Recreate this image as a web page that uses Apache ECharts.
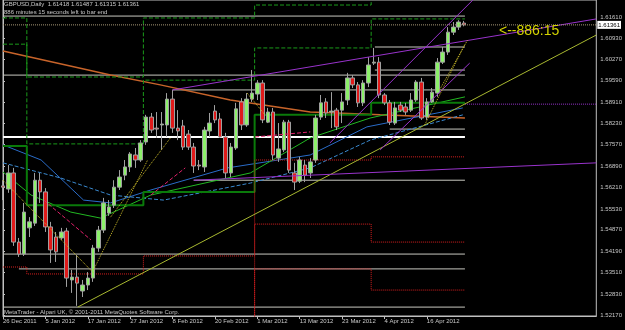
<!DOCTYPE html>
<html>
<head>
<meta charset="utf-8">
<script src="https://cdn.jsdelivr.net/npm/echarts@6/dist/echarts.min.js"></script>
<style>
  html, body { margin: 0; padding: 0; background: #000; }
  #chart { width: 625px; height: 330px; }
</style>
</head>
<body>
<div id="chart"></div>
<script>
// GBPUSD daily bars, 26 Dec 2011 .. 24 Apr 2012
const opens = [1.5626,1.5616,1.5667,1.5448,1.5410,1.5493,1.5508,1.5644,1.5607,1.5496,1.5464,1.5461,1.5483,1.5328,1.5337,1.5293,1.5312,1.5334,1.5429,1.5486,1.5540,1.5565,1.5622,1.5660,1.5686,1.5724,1.5708,1.5765,1.5844,1.5809,1.5819,1.5819,1.5901,1.5809,1.5816,1.5790,1.5749,1.5692,1.5686,1.5800,1.5863,1.5838,1.5781,1.5667,1.5746,1.5892,1.5819,1.5901,1.5917,1.5952,1.5828,1.5860,1.5714,1.5740,1.5828,1.5667,1.5641,1.5692,1.5667,1.5708,1.5844,1.5892,1.5860,1.5866,1.5866,1.5898,1.5968,1.5946,1.5889,1.5952,1.6015,1.6018,1.5914,1.5889,1.5825,1.5882,1.5876,1.5866,1.5898,1.5955,1.5844,1.5892,1.5920,1.6018,1.6050,1.6113,1.6129,1.61418];
const closes = [1.5622,1.5667,1.5448,1.5410,1.5543,1.5512,1.5644,1.5607,1.5496,1.5423,1.5417,1.5480,1.5334,1.5337,1.5318,1.5312,1.5334,1.5429,1.5486,1.5572,1.5559,1.5622,1.5654,1.5686,1.5727,1.5708,1.5762,1.5844,1.5803,1.5806,1.5822,1.5901,1.5809,1.5800,1.5749,1.5749,1.5689,1.5689,1.5803,1.5825,1.5835,1.5781,1.5667,1.5749,1.5870,1.5819,1.5901,1.5920,1.5952,1.5835,1.5860,1.5724,1.5743,1.5828,1.5676,1.5638,1.5708,1.5660,1.5702,1.5841,1.5889,1.5857,1.5863,1.5813,1.5892,1.5968,1.5946,1.5889,1.5952,1.6009,1.6018,1.5914,1.5889,1.5828,1.5873,1.5866,1.5860,1.5898,1.5955,1.5841,1.5892,1.5923,1.6018,1.6050,1.6113,1.6129,1.6145,1.61361];
const lows = [1.5581,1.5604,1.5436,1.5401,1.5404,1.5464,1.5499,1.5572,1.5480,1.5382,1.5385,1.5455,1.5306,1.5287,1.5246,1.5274,1.5296,1.5322,1.5417,1.5477,1.5531,1.5556,1.5613,1.5644,1.5670,1.5683,1.5702,1.5756,1.5794,1.5778,1.5740,1.5781,1.5794,1.5771,1.5740,1.5740,1.5667,1.5676,1.5670,1.5781,1.5825,1.5778,1.5651,1.5654,1.5740,1.5803,1.5813,1.5892,1.5898,1.5825,1.5825,1.5708,1.5702,1.5733,1.5667,1.5613,1.5635,1.5638,1.5651,1.5699,1.5835,1.5841,1.5809,1.5803,1.5825,1.5882,1.5936,1.5876,1.5879,1.5939,1.6009,1.5904,1.5882,1.5819,1.5819,1.5860,1.5851,1.5860,1.5892,1.5835,1.5835,1.5889,1.5908,1.6012,1.6041,1.6104,1.6120,1.61315];
const highs = [1.5644,1.5692,1.5683,1.5461,1.5572,1.5527,1.5667,1.5667,1.5619,1.5512,1.5480,1.5493,1.5493,1.5360,1.5407,1.5328,1.5353,1.5439,1.5499,1.5588,1.5581,1.5644,1.5676,1.5708,1.5733,1.5746,1.5771,1.5851,1.5857,1.5860,1.5860,1.5920,1.5930,1.5866,1.5835,1.5803,1.5762,1.5708,1.5813,1.5857,1.5882,1.5857,1.5794,1.5762,1.5889,1.5904,1.5920,1.5993,1.5961,1.5961,1.5873,1.5873,1.5825,1.5835,1.5835,1.5699,1.5718,1.5708,1.5714,1.5851,1.5914,1.5904,1.5923,1.5873,1.5920,1.5984,1.5977,1.5955,1.5961,1.6034,1.6063,1.6034,1.5920,1.5898,1.5892,1.5892,1.5889,1.5920,1.5961,1.5968,1.5904,1.5936,1.6031,1.6066,1.6129,1.6145,1.6151,1.61487];

const tickLabels = ['26 Dec 2011','5 Jan 2012','17 Jan 2012','27 Jan 2012','8 Feb 2012','20 Feb 2012','1 Mar 2012','13 Mar 2012','23 Mar 2012','4 Apr 2012','16 Apr 2012'];
const priceTicks = [1.61610,1.60930,1.60270,1.59590,1.58910,1.58230,1.57570,1.56890,1.56210,1.55530,1.54870,1.54190,1.53510,1.52830,1.52170];

// indicator lines: [bar index, price]
const maOrange = [[0,1.6053],[20.3,1.5977],[29.7,1.5946],[42.9,1.5898],[58,1.5860],[71.2,1.5851],[87.2,1.5841]];
const maBlue = [[0,1.5756],[7.2,1.5708],[15.2,1.5581],[20.3,1.5572],[27.9,1.5613],[42.4,1.5683],[58,1.5724],[68.7,1.5813],[86.8,1.5873]];
const maBlue2 = [[0,1.5699],[10.9,1.5651],[20.3,1.5597],[30.3,1.5581],[46.7,1.5635],[58,1.5683],[69.3,1.5771],[86.8,1.5851]];
const maGreen = [[0,1.5670],[5.3,1.5597],[12.8,1.5543],[18.4,1.5524],[27.9,1.5597],[46.7,1.5667],[58,1.5778],[69.3,1.5841],[87.2,1.5908]];
const trendYellow = [[14.1,1.5242],[112,1.6104]];
const trendPurple = [[32,1.5930],[112,1.6155]];
const trendPurple2 = [[36,1.5644],[112,1.5699]];
const steepPurple = [[[61.7,1.5762],[88.7,1.6215]],[[71.2,1.5740],[88.1,1.6015]]];
const zigYellow = [[[0,1.5644],[17.1,1.5350]],[[17.1,1.5360],[27.3,1.5708]],[[20.3,1.5527],[31.6,1.5778]],
  [[46.1,1.5920],[49.5,1.5850]],[[79.6,1.5819],[87.2,1.6075]],[[82.4,1.5930],[87.7,1.6088]]];
const redDash = [[[7.7,1.5581],[16.6,1.5455]],[[27.9,1.5597],[34.4,1.5683]],[[47.6,1.5781],[58,1.5797]]];

// horizontal levels: [price, from bar, to bar]
const whiteLevels = [[1.6164,0,87.2],[1.5977,0,87.2],[1.5242,0,87.2],[1.5410,0,87.2],[1.5363,3,87.2],[1.5644,36,87.2],[1.5930,32,87.2],[1.6066,70.2,87.2],[1.5993,70.2,87.2],[1.5806,73,87.2]];
const thickLevel = 1.5781;
const purpleLevel = [1.5885, 87.2, 112];

// monthly pivots (Dec, Jan, Feb, Mar, Apr)
const monthEdges = [0, 4.5, 26.5, 47.5, 69.5, 87.2];
const pivotP = [1.5752,1.5565,1.5607,1.5851,1.5889];
const pivotR1 = [1.6075,1.5759,1.5961,1.6063,1.6155];
const pivotR2 = [1.6158,1.5971,1.6158,1.6199,1.6300];
const pivotS1 = [1.5369,1.5347,1.5404,1.5708,1.5718];
const pivotS2 = [1.5100,1.5100,1.5100,1.5505,1.5448];
const pivotS3 = [1.5000,1.5000,1.5000,1.5363,1.5296];

const nSlots = 113;
const cats = [];
for (let i = 0; i < nSlots; i++) cats.push(i % 8 === 0 && i / 8 < tickLabels.length ? tickLabels[i / 8] : '');

const candles = opens.map((o, i) => [o, closes[i], lows[i], highs[i]]);
const last = opens.length - 1;

function steps(levels) {
  const pts = [];
  levels.forEach((v, k) => { pts.push([monthEdges[k], v]); pts.push([monthEdges[k + 1], v]); });
  return pts;
}

function line(data, color, width, type, z, extra) {
  return Object.assign({
    type: 'line', xAxisIndex: 1, yAxisIndex: 0, data: data,
    symbol: 'none', silent: true, animation: false, z: z || 3,
    lineStyle: { color: color, width: width, type: type || 'solid' }
  }, extra || {});
}

function endTag(text, color, price) {
  return {
    symbol: 'none', silent: true,
    data: [{ coord: [87.2, price], symbolSize: 0,
      label: { show: true, formatter: text, position: 'left', distance: 0, offset: [2, 5], color: color, fontSize: 6, fontFamily: 'Liberation Sans' } }]
  };
}

const series = [];
whiteLevels.forEach(l => series.push(line([[l[1], l[0]], [l[2], l[0]]], '#c8c8c0', 1, 'solid', 1)));
series.push(line([[0, thickLevel], [87.2, thickLevel]], '#ffffff', 2, 'solid', 1));
series.push(line([[purpleLevel[1], purpleLevel[0]], [purpleLevel[2], purpleLevel[0]]], '#9933cc', 1, 'dotted', 2));
series.push(line(maOrange, '#c8642a', 1.5, 'solid', 2));
series.push(line(maBlue, '#2a6cc8', 1, 'solid', 2));
series.push(line(maBlue2, '#3a8ad0', 1, 'dashed', 2));
series.push(line(maGreen, '#22b822', 1, 'solid', 2));
series.push(line(steps(pivotP), '#0a7a0a', 2, 'solid', 2, { markPoint: endTag('M-P', '#22aa22', pivotP[4]) }));
series.push(line(steps(pivotR1), '#1a9a1a', 1, 'dashed', 2, { markPoint: endTag('M-R1', '#22aa22', pivotR1[4]) }));
series.push(line(steps(pivotR2), '#1a9a1a', 1, 'dashed', 2));
series.push(line(steps(pivotS1), '#d82020', 1, 'dotted', 2, { markPoint: endTag('M-S1', '#e02020', pivotS1[4]) }));
series.push(line(steps(pivotS2), '#d82020', 1, 'dotted', 2, { markPoint: endTag('M-S2', '#e02020', pivotS2[4]) }));
series.push(line(steps(pivotS3), '#d82020', 1, 'dotted', 2, { markPoint: endTag('M-S3', '#e02020', pivotS3[4]) }));
series.push(line(trendYellow, '#a8b830', 1, 'solid', 3));
series.push(line(trendPurple, '#9933cc', 1, 'solid', 3));
series.push(line(trendPurple2, '#9933cc', 1, 'solid', 3));
steepPurple.forEach(d => series.push(line(d, '#9933cc', 1, 'solid', 3)));
zigYellow.forEach(d => series.push(line(d, '#c8b828', 1, 'dotted', 3)));
redDash.forEach(d => series.push(line(d, '#e0206a', 1, 'dashed', 3)));

// bid line with price tag on the axis
series.push(line([[0, closes[last]], [nSlots - 1, closes[last]]], '#a89a78', 1, 'dotted', 4, {
  endLabel: { show: true, distance: 1, formatter: closes[last].toFixed(5),
    backgroundColor: '#ffffff', color: '#000', fontSize: 6, padding: [1, 1], fontFamily: 'Liberation Sans' }
}));

series.push({
  type: 'candlestick', xAxisIndex: 0, yAxisIndex: 0, data: candles, barWidth: 4, z: 2,
  animation: false, silent: true,
  itemStyle: { color: '#8cf06a', color0: '#e01a1a', borderColor: '#a0a0a0', borderColor0: '#a0a0a0', borderWidth: 1 }
});

const chart = echarts.init(document.getElementById('chart'));
chart.setOption({
  backgroundColor: '#000',
  animation: false,
  title: [
    { text: 'GBPUSD,Daily  ' + [opens[last], highs[last], lows[last], closes[last]].map(v => v.toFixed(5)).join(' '),
      left: 4, top: 1, padding: 0, textStyle: { color: '#c8c8c8', fontSize: 6, fontWeight: 'normal', fontFamily: 'Liberation Sans' } },
    { text: '886 minutes 15 seconds left to bar end',
      left: 4, top: 9, padding: 0, textStyle: { color: '#c8c8c8', fontSize: 6, fontWeight: 'normal', fontFamily: 'Liberation Sans' } },
    { text: '<--886:15', left: 499, top: 24, padding: 0,
      textStyle: { color: '#d4d400', fontSize: 14, fontWeight: 'normal', fontFamily: 'Liberation Sans' } },
    { text: 'MetaTrader - Alpari UK, \u00a9 2001-2011 MetaQuotes Software Corp.',
      left: 4, top: 309, padding: 0, textStyle: { color: '#c8c8c8', fontSize: 6, fontWeight: 'normal', fontFamily: 'Liberation Sans' } }
  ],
  grid: { left: 2, right: 28, top: 0, bottom: 14, show: true, borderColor: '#c0c0c0', borderWidth: 1, backgroundColor: '#000' },
  xAxis: [
    { type: 'category', data: cats, boundaryGap: false,
      axisLine: { show: true, lineStyle: { color: '#c0c0c0' } },
      axisTick: { show: true, length: 3, interval: i => i % 8 === 0 && i <= 80, lineStyle: { color: '#c0c0c0' } },
      axisLabel: { interval: i => i % 8 === 0 && i <= 80, align: 'left', margin: 2, color: '#c8c8c8', fontSize: 6, fontFamily: 'Liberation Sans' },
      splitLine: { show: false } },
    { type: 'value', min: 0, max: nSlots - 1, show: false }
  ],
  yAxis: {
    type: 'value', position: 'right', min: 1.52138, max: 1.62149, scale: true,
    axisLine: { show: true, lineStyle: { color: '#c0c0c0' } },
    axisTick: { show: true, length: 2, customValues: priceTicks, lineStyle: { color: '#c0c0c0' } },
    axisLabel: { customValues: priceTicks, formatter: v => v.toFixed(5), margin: 4, color: '#c8c8c8', fontSize: 6, fontFamily: 'Liberation Sans' },
    splitLine: { show: false }
  },
  series: series
});
</script>
</body>
</html>
